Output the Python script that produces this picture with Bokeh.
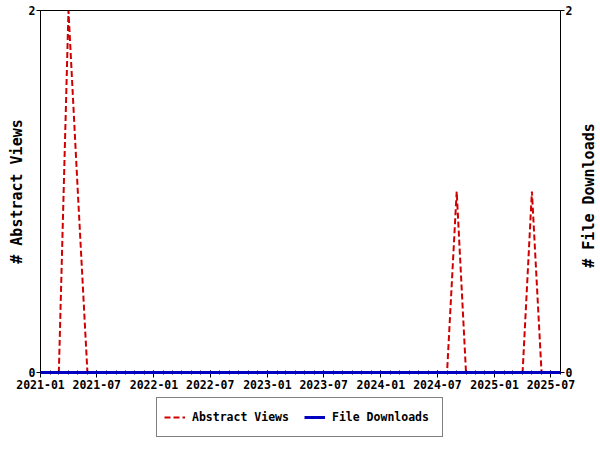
import math
import pandas as pd
from bokeh.plotting import figure
from bokeh.layouts import column
from bokeh.models import (Range1d, LinearAxis, FixedTicker, DatetimeTickFormatter,
                          Legend, LegendItem)
from bokeh.core.properties import value
from bokeh.embed import file_html
from bokeh.resources import INLINE

# ---- data -------------------------------------------------------------
months = ["2021-01", "2021-02", "2021-03", "2021-04", "2021-05", "2021-06",
          "2021-07", "2021-08", "2021-09", "2021-10", "2021-11", "2021-12",
          "2022-01", "2022-02", "2022-03", "2022-04", "2022-05", "2022-06",
          "2022-07", "2022-08", "2022-09", "2022-10", "2022-11", "2022-12",
          "2023-01", "2023-02", "2023-03", "2023-04", "2023-05", "2023-06",
          "2023-07", "2023-08", "2023-09", "2023-10", "2023-11", "2023-12",
          "2024-01", "2024-02", "2024-03", "2024-04", "2024-05", "2024-06",
          "2024-07", "2024-08", "2024-09", "2024-10", "2024-11", "2024-12",
          "2025-01", "2025-02", "2025-03", "2025-04", "2025-05", "2025-06",
          "2025-07", "2025-08"]
abstract_views = [0, 0, 0, 2, 1, 0, 0, 0, 0, 0, 0, 0,
                  0, 0, 0, 0, 0, 0, 0, 0, 0, 0, 0, 0,
                  0, 0, 0, 0, 0, 0, 0, 0, 0, 0, 0, 0,
                  0, 0, 0, 0, 0, 0, 0, 0, 1, 0, 0, 0,
                  0, 0, 0, 0, 1, 0, 0, 0]
file_downloads = [0, 0, 0, 0, 0, 0, 0, 0, 0, 0, 0, 0,
                  0, 0, 0, 0, 0, 0, 0, 0, 0, 0, 0, 0,
                  0, 0, 0, 0, 0, 0, 0, 0, 0, 0, 0, 0,
                  0, 0, 0, 0, 0, 0, 0, 0, 0, 0, 0, 0,
                  0, 0, 0, 0, 0, 0, 0, 0]
major_tick_labels = ["2021-01", "2021-07", "2022-01", "2022-07", "2023-01",
                     "2023-07", "2024-01", "2024-07", "2025-01", "2025-07"]
y_ticks = [0, 2]
series_names = ["Abstract Views", "File Downloads"]
axis_titles = ["# Abstract Views", "# File Downloads"]

dates = pd.to_datetime([m + "-01" for m in months])
major_ms = [pd.Timestamp(m + "-01").value / 1e6 for m in major_tick_labels]
minor_ms = [d.value / 1e6 for d in dates]

FONT = "DejaVu Sans Mono"
RED = "#d00000"
BLUE = "#0000c0"
RED_DASH = "6 3"

# ---- main chart -------------------------------------------------------
p = figure(width=600, height=396, output_backend="svg", toolbar_location=None,
           x_axis_type="datetime", y_axis_location=None,
           x_range=Range1d(dates[0], dates[-1]), y_range=Range1d(0, 2),
           min_border_left=40, min_border_right=40, min_border_top=10,
           min_border_bottom=24)
p.grid.visible = False
p.outline_line_color = "black"
p.outline_line_width = 1
p.background_fill_color = "white"
p.border_fill_color = "white"

p.line(dates, abstract_views, line_color=RED, line_width=2, line_dash=RED_DASH)
p.line(dates, file_downloads, line_color=BLUE, line_width=3, level="overlay")

xa = p.xaxis[0]
xa.ticker = FixedTicker(ticks=major_ms, minor_ticks=minor_ms)
fmt = "%Y-%m"
xa.formatter = DatetimeTickFormatter(days=fmt, months=fmt, years=fmt,
                                     hours=fmt, minutes=fmt, seconds=fmt)
xa.major_tick_out = 5
xa.major_tick_in = 2
xa.minor_tick_out = 2
xa.minor_tick_in = 2
xa.major_label_standoff = 2

for loc in ("left", "right"):
    ax = LinearAxis(ticker=FixedTicker(ticks=y_ticks, minor_ticks=[]))
    ax.major_tick_out = 4
    ax.major_tick_in = 0
    ax.minor_tick_out = 0
    ax.major_label_standoff = 1
    p.add_layout(ax, loc)

for ax in p.axis:
    ax.axis_line_color = "black"
    ax.major_tick_line_color = "black"
    ax.minor_tick_line_color = "black"
    ax.major_label_text_font = FONT
    ax.major_label_text_font_style = "bold"
    ax.major_label_text_font_size = "11.5px"
    ax.major_label_text_color = "black"

# axis titles (both read bottom-to-top), drawn unclipped at overlay level
ymid = (p.y_range.start + p.y_range.end) / 2
p.text(x=[dates[0]], y=[ymid], text=[axis_titles[0]], x_offset=-24,
       angle=math.pi / 2, text_align="center", text_baseline="middle",
       text_font=value(FONT), text_font_style="bold", text_font_size="15px",
       text_color="black", level="overlay")
p.text(x=[dates[-1]], y=[ymid], text=[axis_titles[1]], x_offset=28, y_offset=4,
       angle=math.pi / 2, text_align="center", text_baseline="middle",
       text_font=value(FONT), text_font_style="bold", text_font_size="15px",
       text_color="black", level="overlay")

# ---- legend strip (its lines fall outside its own empty view) ---------
lf = figure(width=600, height=54, output_backend="svg", toolbar_location=None,
            x_axis_location=None, y_axis_location=None,
            x_range=Range1d(0, 1), y_range=Range1d(10, 11),
            min_border_left=0, min_border_right=0, min_border_top=0,
            min_border_bottom=0)
lf.grid.visible = False
lf.outline_line_color = None
lf.background_fill_color = "white"
lf.border_fill_color = "white"
lv = lf.line(dates, abstract_views, line_color=RED, line_width=2,
             line_dash=RED_DASH)
ld = lf.line(dates, file_downloads, line_color=BLUE, line_width=3)

legend = Legend(items=[LegendItem(label=series_names[0], renderers=[lv]),
                       LegendItem(label=series_names[1], renderers=[ld])],
                orientation="horizontal", location=(116, 13), margin=0,
                border_line_color="black", border_line_width=1,
                background_fill_color="white", background_fill_alpha=1,
                padding=7, spacing=9, glyph_width=21, glyph_height=24,
                label_height=24, label_width=103, label_standoff=7,
                label_text_font=FONT, label_text_font_style="bold",
                label_text_font_size="11.5px", label_text_color="black")
lf.add_layout(legend, "center")

layout = column(p, lf, spacing=0)
open("out.html", "w").write(file_html(layout, INLINE))
